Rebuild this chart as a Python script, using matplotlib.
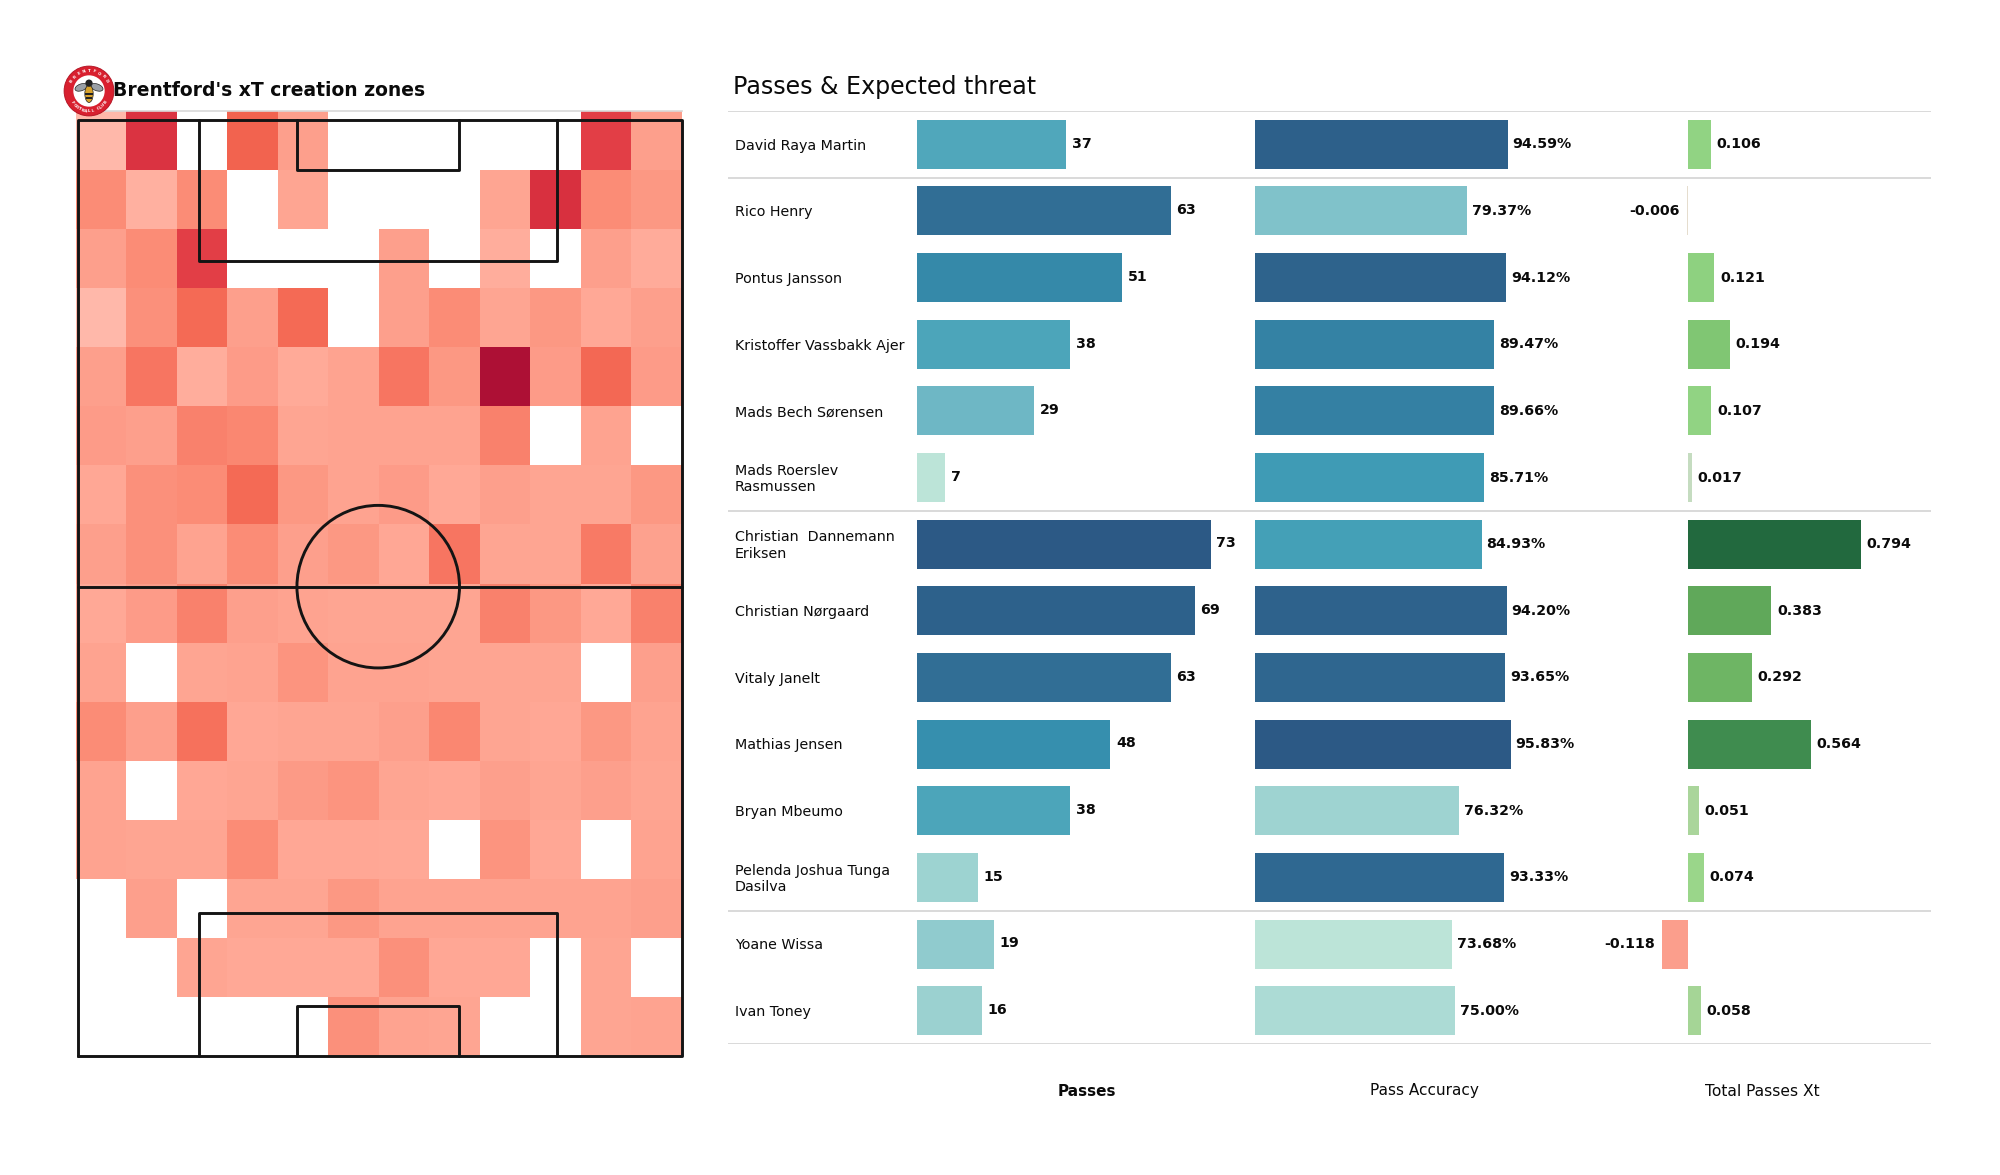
import numpy as np
import matplotlib
matplotlib.use("Agg")
import matplotlib.pyplot as plt
from matplotlib.colors import LinearSegmentedColormap, Normalize
from matplotlib.patches import Circle, Ellipse, Rectangle

W, H = 2000, 1175

players = ["David Raya Martin", "Rico Henry", "Pontus Jansson", "Kristoffer Vassbakk Ajer",
           "Mads Bech Sørensen", "Mads Roerslev\nRasmussen", "Christian  Dannemann\nEriksen",
           "Christian Nørgaard", "Vitaly Janelt", "Mathias Jensen", "Bryan Mbeumo",
           "Pelenda Joshua Tunga\nDasilva", "Yoane Wissa", "Ivan Toney"]
passes = [37, 63, 51, 38, 29, 7, 73, 69, 63, 48, 38, 15, 19, 16]
accuracy = [94.59, 79.37, 94.12, 89.47, 89.66, 85.71, 84.93, 94.20, 93.65, 95.83, 76.32, 93.33, 73.68, 75.00]
xt = [0.106, -0.006, 0.121, 0.194, 0.107, 0.017, 0.794, 0.383, 0.292, 0.564, 0.051, 0.074, -0.118, 0.058]
group_breaks = [0.5, 5.5, 11.5]

n = np.nan
zones = np.array([
    [.05, .78, n, .50, .20, n, n, n, n, n, .72, .20],
    [.30, .10, .30, n, .17, n, n, n, .17, .80, .30, .24],
    [.20, .30, .72, n, n, n, .20, n, .12, n, .20, .13],
    [.05, .28, .47, .20, .47, n, .20, .30, .17, .24, .15, .20],
    [.20, .42, .12, .22, .14, .18, .42, .24, 1.0, .22, .48, .22],
    [.22, .20, .36, .33, .17, .18, .18, .18, .36, n, .18, n],
    [.16, .28, .30, .47, .24, .18, .22, .15, .20, .17, .17, .24],
    [.20, .28, .18, .30, .20, .24, .16, .42, .17, .17, .40, .19],
    [.15, .22, .36, .20, .18, .17, .17, .17, .36, .24, .15, .36],
    [.18, n, .17, .18, .26, .18, .18, .17, .17, .17, n, .20],
    [.30, .20, .44, .16, .17, .17, .20, .33, .17, .16, .24, .18],
    [.18, n, .16, .17, .23, .26, .17, .16, .20, .17, .20, .17],
    [.18, .17, .17, .30, .16, .16, .15, n, .26, .16, n, .18],
    [n, .20, n, .17, .17, .24, .18, .18, .18, .18, .18, .20],
    [n, n, .17, .15, .15, .15, .28, .16, .16, n, .17, n],
    [n, n, n, n, n, .28, .18, .17, n, n, .17, .18],
])

plt.rcParams["font.family"] = "DejaVu Sans"
fig = plt.figure(figsize=(W / 100, H / 100), dpi=100)


def axes_px(x0, y0, x1, y1, **kw):
    ax = fig.add_axes([x0 / W, 1 - y1 / H, (x1 - x0) / W, (y1 - y0) / H], **kw)
    ax.axis("off")
    ax.patch.set_alpha(0)
    return ax


heat_cmap = LinearSegmentedColormap.from_list(
    "heat", [(0, "#ffbfb3"), (.15, "#ffa896"), (.2, "#fd9f8c"), (.3, "#fb8c76"), (.4, "#f87a65"),
             (.5, "#f2634f"), (.72, "#e23e46"), (.8, "#d8303f"), (1, "#ad1035")])
blue_cmap = LinearSegmentedColormap.from_list(
    "blues", ["#bce4d8", "#aedcd5", "#a1d5d2", "#95cecf", "#89c8cc", "#7ec1ca", "#72bac6", "#66b2c2",
              "#59acbe", "#4ba5ba", "#419eb6", "#3b96b2", "#358ead", "#3586a7", "#347ea1", "#32779b",
              "#316f96", "#2f6790", "#2d608a", "#2c5985"])
green_cmap = LinearSegmentedColormap.from_list(
    "greens", [(0, "#cbdcc6"), (.02, "#c5dcc0"), (.064, "#a9d59a"), (.093, "#98d688"), (.152, "#8ed180"),
               (.244, "#80c673"), (.368, "#6eb564"), (.482, "#60a85a"), (.71, "#3f8c4f"), (1, "#22693e")])
neg_cmap = LinearSegmentedColormap.from_list("neg", ["#e4e0d2", "#fb9e8c"])
INK = "#0a0a0a"
RULE = "#d9d9d9"
LINE = "#141414"

# ---- pitch (68 x 105 m) ----
sx = 604 / 68
sy = 936 / 105
p = axes_px(70, 100, 690, 1065)
p.set_xlim((70 - 78) / sx, (690 - 78) / sx)
p.set_ylim((1056 - 1065) / sy, (1056 - 100) / sy)
xe = np.linspace(-0.27, 67.98, zones.shape[1] + 1)
ye = np.linspace(106, 0, zones.shape[0] + 1)
p.pcolormesh(xe, ye, np.ma.masked_invalid(zones), cmap=heat_cmap, vmin=0, vmax=1, edgecolors="none", zorder=1)
lk = dict(color=LINE, lw=2.1, zorder=3, solid_capstyle="round")
p.plot([-0.27, 67.98], [106, 106], color=RULE, lw=1.2, zorder=2)
p.plot([0, 68, 68, 0, 0], [0, 0, 105, 105, 0], **lk)
p.plot([0, 68], [52.65, 52.65], **lk)
for y0, y1, y2 in [(105, 105 - 15.8, 105 - 5.6), (0, 16.05, 5.6)]:
    p.plot([13.6, 13.6, 53.9, 53.9], [y0, y1, y1, y0], **lk)
    p.plot([24.7, 24.7, 42.9, 42.9], [y0, y2, y2, y0], **lk)
p.add_patch(Ellipse((33.8, 52.65), 18.3, 18.3 * sx / sy, fill=False, ec=LINE, lw=2.1, zorder=3))

# ---- titles ----
fig.text(113 / W, 1 - 90 / H, "Brentford's xT creation zones", fontsize=13.5, fontweight="bold", color=INK, va="center")
fig.text(733 / W, 1 - 87 / H, "Passes & Expected threat", fontsize=17.1, color=INK, va="center")

# ---- crest ----
c = axes_px(61, 63, 117, 119)
c.set_xlim(-1, 1)
c.set_ylim(-1, 1)
c.add_patch(Circle((0, 0), .89, fc="#d8202f", ec="#b01020", lw=.6))
c.add_patch(Circle((0, 0), .56, fc="white", ec="none"))
for txt, start, stop, flip in [("BRENTFORD", 150, 30, 0), ("FOOTBALL CLUB", 215, 325, 180)]:
    for ch, ang in zip(txt, np.linspace(start, stop, len(txt))):
        c.text(.72 * np.cos(np.radians(ang)), .72 * np.sin(np.radians(ang)), ch, fontsize=2.9, color="white",
               fontweight="bold", ha="center", va="center", rotation=ang - 90 + flip)
c.add_patch(Ellipse((-.28, .13), .46, .24, angle=20, fc="#9aa0a6", ec="#222222", lw=.5))
c.add_patch(Ellipse((.28, .13), .46, .24, angle=-20, fc="#9aa0a6", ec="#222222", lw=.5))
c.add_patch(Ellipse((0, -.1), .30, .62, fc="#d9a32c", ec="#222222", lw=.5))
c.add_patch(Rectangle((-.14, -.14), .28, .07, fc="#222222"))
c.add_patch(Rectangle((-.12, -.28), .24, .06, fc="#222222"))
c.add_patch(Circle((0, .28), .13, fc="#222222"))

# ---- table ----
rows = (-0.5, len(players) - 0.5)
top, bottom = 111, 1044
t = axes_px(728, top, 1931, bottom)
t.set_xlim(728, 1931)
t.set_ylim(rows[1], rows[0])
for yb in [-0.5, *group_breaks, 13.5]:
    t.axhline(yb, color=RULE, lw=1.4)
for i, name in enumerate(players):
    t.text(735, i + 0.02, name, fontsize=10.3, color=INK, va="center", ha="left", linespacing=1.2)

BAR_H = 0.735
LAB = dict(fontsize=10.2, fontweight="bold", color=INK, va="center")

a1 = axes_px(917.3, top, 1240, bottom)
a1.set_xlim(0, (1240 - 917.3) / 4.02)
a1.set_ylim(rows[1], rows[0])
nrm = Normalize(min(passes), max(passes))
a1.barh(range(len(passes)), passes, height=BAR_H, color=blue_cmap(nrm(passes)))
for i, v in enumerate(passes):
    a1.annotate(str(v), (v, i), xytext=(4, 0.5), textcoords="offset points", **LAB)

a2 = axes_px(1255, top, 1640, bottom)
a2.set_xlim(0, (1640 - 1255) / 2.67)
a2.set_ylim(rows[1], rows[0])
nrm = Normalize(min(accuracy), max(accuracy))
a2.barh(range(len(accuracy)), accuracy, height=BAR_H, color=blue_cmap(nrm(accuracy)))
for i, v in enumerate(accuracy):
    a2.annotate(f"{v:.2f}%", (v, i), xytext=(3.5, 0), textcoords="offset points", **LAB)

a3 = axes_px(1640, top, 1931, bottom)
a3.set_xlim(-48 / 218, (1931 - 1688) / 218)
a3.set_ylim(rows[1], rows[0])
nrm = Normalize(0, max(xt))
nrm_neg = Normalize(0, -min(xt))
cols = [green_cmap(nrm(v)) if v >= 0 else neg_cmap(nrm_neg(-v)) for v in xt]
a3.barh(range(len(xt)), xt, height=BAR_H, color=cols)
for i, v in enumerate(xt):
    if v >= 0:
        a3.annotate(f"{v:.3f}", (v, i), xytext=(4, 0), textcoords="offset points", **LAB)
    else:
        a3.annotate(f"{v:.3f}", (v, i), xytext=(-5, 0), textcoords="offset points", ha="right", **LAB)

# ---- column heads ----
fig.text(1087 / W, 1 - 1091 / H, "Passes", fontsize=11, fontweight="bold", color=INK, ha="center", va="center")
fig.text(1424 / W, 1 - 1091 / H, "Pass Accuracy", fontsize=11, color=INK, ha="center", va="center")
fig.text(1762 / W, 1 - 1091 / H, "Total Passes Xt", fontsize=11.2, color=INK, ha="center", va="center")

fig.savefig("out.png", dpi=100, facecolor="white")
